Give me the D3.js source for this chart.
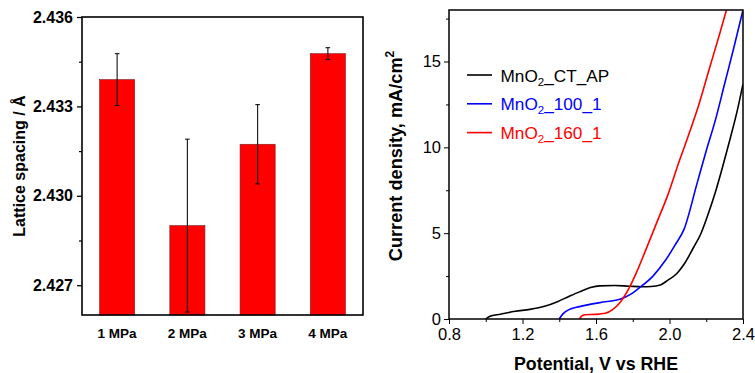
<!DOCTYPE html>
<html>
<head>
<meta charset="utf-8">
<script src="https://cdn.jsdelivr.net/npm/d3@7"></script>
<style>
  body { margin: 0; background: #fff; }
  svg { font-family: "Liberation Sans", Arial, sans-serif; }
  .axis path, .axis line { stroke: #000; }
</style>
</head>
<body>
<svg id="chart" width="755" height="373"></svg>
<script>
// left panel: lattice spacing
var pressures = ['1 MPa', '2 MPa', '3 MPa', '4 MPa'];
var spacing = [2.4339, 2.4290, 2.43173, 2.43477];
var spacingErr = [0.00087, 0.0029, 0.00133, 0.0002];
var spacingTicks = [2.427, 2.430, 2.433, 2.436];

// right panel: polarisation curves (V vs RHE, mA/cm2)
var ctV = [1.0, 1.02, 1.08, 1.16, 1.24, 1.32, 1.39, 1.45, 1.51, 1.57, 1.62, 1.70, 1.78, 1.85, 1.90, 1.95, 1.99, 2.04, 2.08, 2.13, 2.17, 2.21, 2.25, 2.29, 2.33, 2.37, 2.40];
var ctJ = [0, 0.15, 0.28, 0.45, 0.56, 0.74, 1.01, 1.30, 1.58, 1.83, 1.93, 1.95, 1.91, 1.88, 1.89, 1.98, 2.25, 2.65, 3.2, 4.15, 4.95, 6.1, 7.4, 8.9, 10.5, 12.2, 13.7];
var s100V = [1.40, 1.42, 1.45, 1.51, 1.58, 1.65, 1.73, 1.79, 1.84, 1.91, 1.98, 2.03, 2.08, 2.15, 2.20, 2.25, 2.30, 2.35, 2.40];
var s100J = [0, 0.3, 0.53, 0.72, 0.88, 1.0, 1.15, 1.45, 1.85, 2.5, 3.45, 4.3, 5.25, 7.9, 9.8, 11.6, 13.7, 15.8, 18.0];
var s160V = [1.51, 1.52, 1.54, 1.60, 1.65, 1.69, 1.73, 1.75, 1.78, 1.82, 1.87, 1.93, 1.99, 2.05, 2.10, 2.16, 2.22, 2.27, 2.31];
var s160J = [0, 0.15, 0.25, 0.27, 0.33, 0.55, 0.95, 1.25, 1.8, 2.7, 4.0, 5.6, 7.2, 9.1, 10.6, 12.5, 14.7, 16.5, 18.0];
var seriesNames = ['CT_AP', '100_1', '160_1'];
var seriesColors = ['#000000', '#0000ff', '#ff0000'];
var potentialTicks = [0.8, 1.2, 1.6, 2.0, 2.4];
var currentTicks = [0, 5, 10, 15];

var svg = d3.select('#chart');

// ---------- left panel ----------
var L = {left: 82, right: 363, top: 17, bottom: 315};

var xb = d3.scaleBand().domain(pressures).range([L.left, L.right]).paddingInner(0.5).paddingOuter(0.25);
var yb = d3.scaleLinear().domain([2.426, 2.436]).range([L.bottom, L.top]);

var left = svg.append('g');

left.selectAll('rect.bar')
    .data(pressures)
    .enter().append('rect')
    .attr('class', 'bar')
    .attr('x', function(d) { return xb(d); })
    .attr('width', xb.bandwidth())
    .attr('y', function(d, i) { return yb(spacing[i]); })
    .attr('height', function(d, i) { return L.bottom - yb(spacing[i]); })
    .attr('fill', '#ff0000')
    .attr('stroke', '#7a2020')
    .attr('stroke-width', 0.6);

// error bars
var eb = left.selectAll('g.err')
    .data(pressures)
    .enter().append('g')
    .attr('class', 'err')
    .attr('stroke', '#111')
    .attr('stroke-width', 1.1);
eb.append('line')
    .attr('x1', function(d) { return xb(d) + xb.bandwidth() / 2; })
    .attr('x2', function(d) { return xb(d) + xb.bandwidth() / 2; })
    .attr('y1', function(d, i) { return yb(Math.max(2.426, spacing[i] - spacingErr[i])); })
    .attr('y2', function(d, i) { return yb(spacing[i] + spacingErr[i]); });
[1, -1].forEach(function(s) {
    eb.append('line')
        .attr('x1', function(d) { return xb(d) + xb.bandwidth() / 2 - 2.3; })
        .attr('x2', function(d) { return xb(d) + xb.bandwidth() / 2 + 2.3; })
        .attr('y1', function(d, i) { return yb(Math.max(2.426, spacing[i] + s * spacingErr[i])); })
        .attr('y2', function(d, i) { return yb(Math.max(2.426, spacing[i] + s * spacingErr[i])); });
});

// frame
left.append('rect')
    .attr('x', L.left).attr('y', L.top)
    .attr('width', L.right - L.left).attr('height', L.bottom - L.top)
    .attr('fill', 'none').attr('stroke', '#000').attr('stroke-width', 1.6);

// y axis
var yAxisL = d3.axisLeft(yb).tickValues(spacingTicks).tickFormat(d3.format('.3f')).tickSize(5).tickPadding(4);
var gyl = left.append('g')
    .attr('class', 'axis')
    .attr('transform', 'translate(' + L.left + ',0)')
    .call(yAxisL);
gyl.select('.domain').remove();
gyl.selectAll('line').attr('stroke-width', 1.3);
gyl.selectAll('text').attr('font-size', 16).attr('font-weight', 'bold').attr('fill', '#000');
left.append('g')
    .attr('class', 'axis')
    .attr('transform', 'translate(' + L.left + ',0)')
    .call(d3.axisLeft(yb).tickValues([2.4285, 2.4315, 2.4345]).tickSize(3).tickFormat(''))
    .call(function(g) { g.select('.domain').remove(); g.selectAll('line').attr('stroke-width', 1.2); });

// x labels
left.selectAll('text.xl')
    .data(pressures)
    .enter().append('text')
    .attr('class', 'xl')
    .attr('x', function(d) { return xb(d) + xb.bandwidth() / 2; })
    .attr('y', 338)
    .attr('text-anchor', 'middle')
    .attr('font-size', 13.5)
    .attr('font-weight', 'bold')
    .text(function(d) { return d; });

left.append('text')
    .attr('transform', 'translate(25,' + ((L.top + L.bottom) / 2) + ') rotate(-90)')
    .attr('text-anchor', 'middle')
    .attr('font-size', 16)
    .attr('font-weight', 'bold')
    .text('Lattice spacing / Å');

// ---------- right panel ----------
var R = {left: 449, right: 743, top: 10, bottom: 319};

var x = d3.scaleLinear().domain([0.8, 2.4]).range([R.left, R.right]);
var y = d3.scaleLinear().domain([0, 18]).range([R.bottom, R.top]);

var right = svg.append('g');

right.append('clipPath').attr('id', 'clipR')
    .append('rect')
    .attr('x', R.left).attr('y', R.top)
    .attr('width', R.right - R.left).attr('height', R.bottom - R.top);

var line = d3.line()
    .x(function(d) { return x(d[0]); })
    .y(function(d) { return y(d[1]); })
    .curve(d3.curveMonotoneX);

var curves = [d3.zip(ctV, ctJ), d3.zip(s100V, s100J), d3.zip(s160V, s160J)];

right.selectAll('path.curve')
    .data(curves)
    .enter().append('path')
    .attr('class', 'curve')
    .attr('clip-path', 'url(#clipR)')
    .attr('d', line)
    .attr('fill', 'none')
    .attr('stroke', function(d, i) { return seriesColors[i]; })
    .attr('stroke-width', 1.6);

right.append('rect')
    .attr('x', R.left).attr('y', R.top)
    .attr('width', R.right - R.left).attr('height', R.bottom - R.top)
    .attr('fill', 'none').attr('stroke', '#000').attr('stroke-width', 1.5);

var gxr = right.append('g')
    .attr('class', 'axis')
    .attr('transform', 'translate(0,' + R.bottom + ')')
    .call(d3.axisBottom(x).tickValues(potentialTicks).tickFormat(d3.format('.1f')).tickSize(5).tickPadding(4));
gxr.select('.domain').remove();
gxr.selectAll('text').attr('font-size', 16.5).attr('fill', '#000');
right.append('g')
    .attr('class', 'axis')
    .attr('transform', 'translate(0,' + R.bottom + ')')
    .call(d3.axisBottom(x).tickValues([1.0, 1.4, 1.8, 2.2]).tickSize(3).tickFormat(''))
    .call(function(g) { g.select('.domain').remove(); });

var gyr = right.append('g')
    .attr('class', 'axis')
    .attr('transform', 'translate(' + R.left + ',0)')
    .call(d3.axisLeft(y).tickValues(currentTicks).tickSize(5).tickPadding(3));
gyr.select('.domain').remove();
gyr.selectAll('text').attr('font-size', 16.5).attr('fill', '#000');
right.append('g')
    .attr('class', 'axis')
    .attr('transform', 'translate(' + R.left + ',0)')
    .call(d3.axisLeft(y).tickValues([2.5, 7.5, 12.5, 17.5]).tickSize(3).tickFormat(''))
    .call(function(g) { g.select('.domain').remove(); });

right.append('text')
    .attr('x', (R.left + R.right) / 2)
    .attr('y', 370)
    .attr('text-anchor', 'middle')
    .attr('font-size', 17.8)
    .attr('font-weight', 'bold')
    .text('Potential, V vs RHE');

var yt = right.append('text')
    .attr('transform', 'translate(402,156) rotate(-90)')
    .attr('text-anchor', 'middle')
    .attr('font-size', 18.2)
    .attr('font-weight', 'bold');
yt.append('tspan').text('Current density, mA/cm');
yt.append('tspan').attr('font-size', 12).attr('dy', -8).text('2');

// legend
var leg = right.selectAll('g.leg')
    .data(seriesNames)
    .enter().append('g')
    .attr('class', 'leg')
    .attr('transform', function(d, i) { return 'translate(467,' + (75 + i * 28.8) + ')'; });
leg.append('line')
    .attr('x1', 0).attr('x2', 25)
    .attr('stroke', function(d, i) { return seriesColors[i]; })
    .attr('stroke-width', 1.6);
var lt = leg.append('text')
    .attr('x', 33.5)
    .attr('y', 6.5)
    .attr('font-size', 17.2)
    .attr('fill', function(d, i) { return seriesColors[i]; });
lt.append('tspan').text('MnO');
lt.append('tspan').attr('font-size', 11.5).attr('dy', 4).text('2');
lt.append('tspan').attr('dy', -4).text(function(d) { return '_' + d; });
</script>
</body>
</html>
